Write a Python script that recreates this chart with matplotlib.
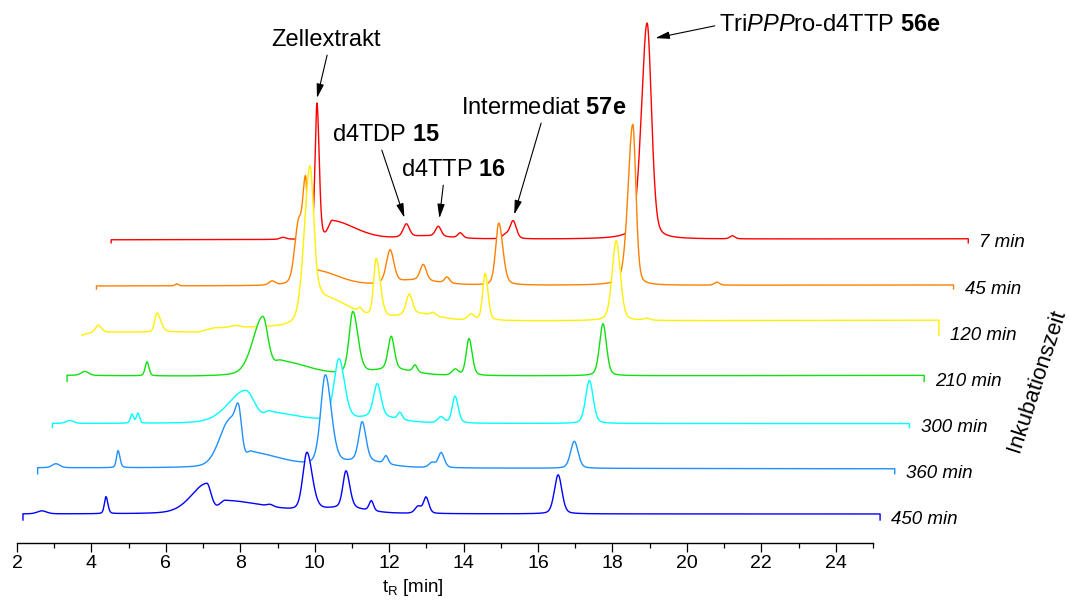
import numpy as np
import matplotlib
matplotlib.use("Agg")
import matplotlib.pyplot as plt

plt.rcParams['font.family'] = ['Liberation Sans', 'DejaVu Sans']
plt.rcParams['mathtext.fontset'] = 'custom'
plt.rcParams['mathtext.rm'] = 'Liberation Sans'
plt.rcParams['mathtext.it'] = 'Liberation Sans:italic'
plt.rcParams['mathtext.bf'] = 'Liberation Sans:bold'

# ---------------------------------------------------------------------------
# HPLC traces of the incubation in cell extract (back to front)
# ---------------------------------------------------------------------------
incubation = ["7 min", "45 min", "120 min", "210 min", "300 min", "360 min", "450 min"]
colors = ["#FF0000", "#FF8000", "#FFF000", "#10E010", "#00FFFF", "#1E90FF", "#0000FF"]

run_start, run_end = 2.16, 25.19          # recorded window [min]

# baseline levels (t_R [min], signal)
base_7 = [(2.16, 3), (25.19, 4)]
base_45 = [(2.16, 3), (25.19, 4)]
base_120 = [(2.16, 0), (2.5, 3), (5.3, 3), (5.7, 7), (7.6, 8), (9.0, 12), (12.0, 14), (25.19, 15)]
base_210 = [(2.16, 6), (5.5, 5), (25.19, 6)]
base_300 = [(2.16, 4), (25.19, 4)]
base_360 = [(2.16, 6), (25.19, 5)]
base_450 = [(2.16, 6), (25.19, 6)]

# peak tables: (t_R [min], height, left half width, right half width)
peaks_7 = [(6.78, 2, 0.10, 0.10), (7.69, 136, 0.06, 0.07), (8.10, 18, 0.12, 0.75),
           (10.60, 3, 0.6, 0.8), (10.09, 13, 0.10, 0.10), (10.95, 10, 0.09, 0.09),
           (11.54, 5, 0.08, 0.08), (12.75, 4, 0.10, 0.10), (12.96, 18, 0.10, 0.10),
           (16.56, 216, 0.18, 0.14), (18.85, 3, 0.08, 0.08)]
peaks_45 = [(4.32, 2, 0.05, 0.05), (6.88, 4, 0.10, 0.10), (7.58, 55, 0.12, 0.10),
            (7.78, 103, 0.10, 0.06), (8.10, 14, 0.15, 0.70), (10.05, 33, 0.12, 0.12),
            (10.70, 5, 0.6, 0.8), (10.94, 16, 0.10, 0.10), (11.58, 6, 0.08, 0.08),
            (12.97, 62, 0.10, 0.13), (16.57, 161, 0.15, 0.10), (18.83, 3, 0.08, 0.08)]
peaks_120 = [(2.60, 7, 0.08, 0.10), (4.18, 19, 0.07, 0.12), (6.28, 2, 0.15, 0.15),
             (8.29, 157, 0.18, 0.13), (8.60, 25, 0.15, 0.90), (9.64, 4, 0.06, 0.06),
             (10.07, 58, 0.08, 0.13), (11.20, 7, 0.6, 0.6), (10.96, 20, 0.10, 0.10),
             (11.60, 3, 0.08, 0.08), (12.62, 6, 0.10, 0.10), (13.00, 47, 0.08, 0.09),
             (16.52, 80, 0.13, 0.13), (17.35, 2, 0.10, 0.10)]
peaks_210 = [(2.64, 4, 0.12, 0.12), (4.31, 14, 0.06, 0.06), (7.42, 59, 0.32, 0.17),
             (7.90, 14, 0.20, 0.90), (9.84, 62, 0.12, 0.16), (10.90, 6, 0.7, 0.7),
             (10.87, 33, 0.10, 0.10), (11.51, 7, 0.07, 0.07), (12.59, 6, 0.10, 0.10),
             (12.96, 37, 0.09, 0.10), (16.56, 52, 0.11, 0.11)]
peaks_300 = [(2.63, 3, 0.12, 0.12), (4.30, 9, 0.05, 0.05), (4.46, 10, 0.05, 0.05),
             (7.35, 33, 0.55, 0.30), (8.00, 10, 0.15, 1.00), (9.86, 62, 0.16, 0.18),
             (10.90, 6, 0.7, 0.7), (10.89, 33, 0.12, 0.12), (11.50, 7, 0.07, 0.07),
             (12.60, 6, 0.10, 0.10), (12.98, 27, 0.09, 0.10), (16.59, 43, 0.12, 0.12)]
peaks_360 = [(2.65, 4, 0.12, 0.12), (4.32, 17, 0.05, 0.06), (7.30, 45, 0.32, 0.22),
             (7.56, 45, 0.12, 0.10), (7.90, 14, 0.15, 1.00), (9.89, 90, 0.15, 0.19),
             (10.90, 6, 0.7, 0.7), (10.88, 39, 0.11, 0.12), (11.52, 8, 0.07, 0.07),
             (12.76, 5, 0.10, 0.10), (13.00, 15, 0.09, 0.10), (16.58, 27, 0.12, 0.12)]
peaks_450 = [(2.67, 3, 0.15, 0.15), (4.39, 17, 0.05, 0.06), (7.10, 30, 0.50, 0.14),
             (7.60, 13, 0.20, 1.30), (8.80, 2, 0.10, 0.10), (9.79, 58, 0.13, 0.17),
             (10.80, 5, 0.7, 0.7), (10.84, 37, 0.10, 0.12), (11.52, 10, 0.07, 0.07),
             (12.78, 7, 0.10, 0.10), (12.99, 16, 0.08, 0.09), (16.54, 39, 0.12, 0.12)]

baselines = [base_7, base_45, base_120, base_210, base_300, base_360, base_450]
peak_tables = [peaks_7, peaks_45, peaks_120, peaks_210, peaks_300, peaks_360, peaks_450]

# labelled compounds in the 7 min trace (peak t_R)
rt_zellextrakt = 7.69
rt_d4tdp = 10.09
rt_d4ttp = 10.95
rt_57e = 12.96
rt_56e = 16.56

STEP_T = 0.395   # oblique shift per trace [min]
STEP_I = 46.2    # vertical shift per trace


def peak_shape(t, tc, h, wl, wr, eta=0.3):
    w = np.where(t < tc, wl, wr)
    r2 = ((t - tc) / w) ** 2
    return h * ((1 - eta) * np.exp(-np.log(2) * r2) + eta / (1 + r2))


def trace_signal(t, base, peaks):
    bt, bv = zip(*base)
    s = np.interp(t, bt, bv)
    for tc, h, wl, wr in peaks:
        s = s + peak_shape(t, tc, h, wl, wr)
    return s


fig = plt.figure(figsize=(10.69, 6.03), dpi=100)
ax = fig.add_axes([17 / 1069, 60 / 603, 856 / 1069, 543 / 603])
ax.set_xlim(2, 25)
ax.set_ylim(-23, 520)

t = np.linspace(run_start, run_end, 6000)
n = len(incubation)
for j in range(n):
    k = n - 1 - j                    # position counted from the front
    x = t + k * STEP_T
    y0 = k * STEP_I
    y = y0 + trace_signal(t, baselines[j], peak_tables[j])
    ax.fill_between(x, y0, y, color="white", lw=0, zorder=2 * j + 1, clip_on=False)
    ax.plot(np.r_[x[0], x, x[-1]], np.r_[y0, y, y0], color=colors[j], lw=1.0,
            zorder=2 * j + 2, clip_on=False, solid_joinstyle="round")
    ax.text(x[-1] + 0.3, y0, incubation[j], style="italic", fontsize=13.5,
            ha="left", va="center", zorder=50)

# annotations on the 7 min trace
k_back = n - 1


def sig7(tt):
    return k_back * STEP_I + trace_signal(np.array([tt]), base_7, peaks_7)[0]


ann_kw = dict(fontsize=17, ha="center", va="center", zorder=60, annotation_clip=False)


def arrow(relpos):
    return dict(arrowstyle="-|>,head_length=0.85,head_width=0.22", color="black",
                lw=0.8, mutation_scale=10, shrinkA=1, shrinkB=0, relpos=relpos)


ax.annotate("Zellextrakt", xy=(rt_zellextrakt + k_back * STEP_T, sig7(rt_zellextrakt) + 5),
            xytext=(10.30, 480), arrowprops=arrow((0.52, 0.0)), **ann_kw)
ax.annotate(r"d4TDP $\mathbf{15}$", xy=(rt_d4tdp + k_back * STEP_T - 0.05, sig7(rt_d4tdp) + 6),
            xytext=(11.91, 385), arrowprops=arrow((0.45, 0.0)), **ann_kw)
ax.annotate(r"d4TTP $\mathbf{16}$", xy=(rt_d4ttp + k_back * STEP_T + 0.03, sig7(rt_d4ttp) + 8),
            xytext=(13.72, 350), arrowprops=arrow((0.41, 0.0)), **ann_kw)
ax.annotate(r"Intermediat $\mathbf{57e}$", xy=(rt_57e + k_back * STEP_T + 0.03, sig7(rt_57e) + 6),
            xytext=(16.16, 412), arrowprops=arrow((0.49, 0.0)), **ann_kw)
ax.annotate(r"Tri$\mathit{PPP}$ro-d4TTP $\mathbf{56e}$",
            xy=(rt_56e + k_back * STEP_T + 0.22, sig7(rt_56e) - 15),
            xytext=(20.86, 495), arrowprops=arrow((0.0, 0.5)),
            **{**ann_kw, "ha": "left"})

# axis styling
for side in ("left", "right", "top"):
    ax.spines[side].set_visible(False)
ax.spines["bottom"].set_linewidth(1.0)
ax.set_yticks([])
ax.set_xticks(np.arange(2, 25, 2))
ax.set_xticks(np.arange(3, 26, 2), minor=True)
ax.tick_params(axis="x", which="major", direction="out", length=6.5, width=0.9,
               labelsize=14, pad=2.5)
ax.tick_params(axis="x", which="minor", direction="out", length=3.6, width=0.9)
ax.patch.set_visible(False)

ax.text((413 - 17) / 856, (543 - 592) / 543, r"t$_\mathrm{R}$ [min]", transform=ax.transAxes,
        fontsize=13.5, ha="center", va="baseline")
# depth axis title, slanted along the stacking direction
fig.text(1037 / 1069, 1 - 381 / 603, "Inkubationszeit", rotation=72, fontsize=16,
         ha="center", va="center", rotation_mode="anchor")

fig.savefig("out.png", dpi=100)
